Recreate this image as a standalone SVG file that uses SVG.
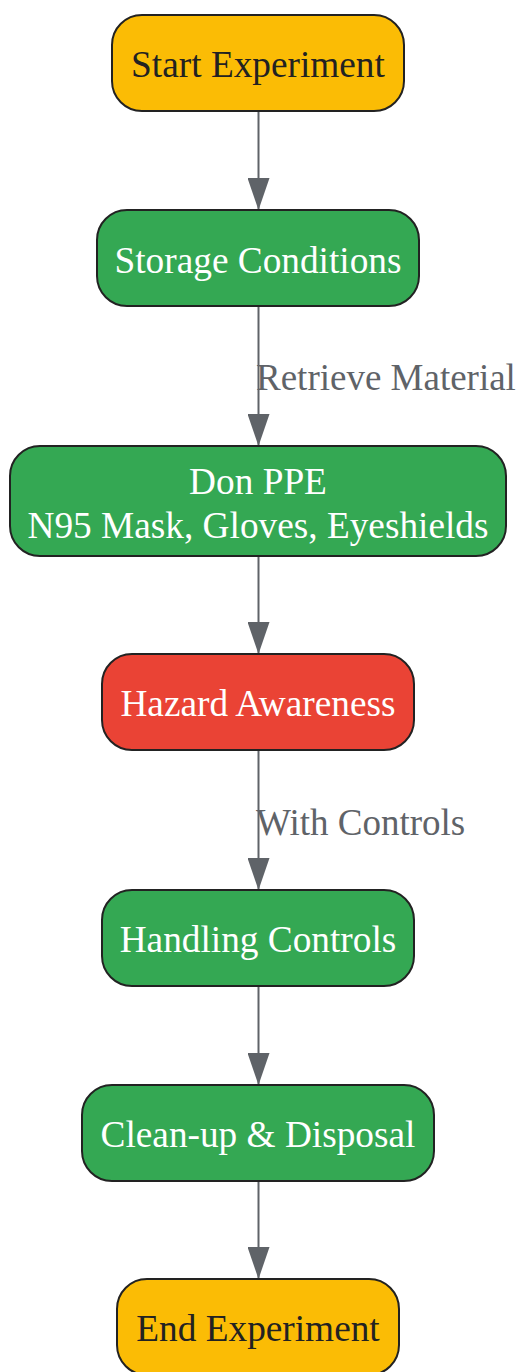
<svg xmlns="http://www.w3.org/2000/svg" width="519" height="1372" viewBox="0 0 519 1372">
<defs>
<style>
.node rect{stroke:#222;stroke-width:2}
.y rect{fill:#FBBC05}
.g rect{fill:#34A853}
.r rect{fill:#EA4335}
.node text{font-family:"Liberation Serif",serif;font-size:37.3px;text-anchor:middle}
.y text{fill:#222}
.g text,.r text{fill:#fff}
.edges line{stroke:#5f6368;stroke-width:2;fill:none}
.lbl{font-family:"Liberation Serif",serif;font-size:37px;fill:#5f6368}
</style>
<marker id="arr" markerUnits="userSpaceOnUse" viewBox="0 0 32 22" refX="32" refY="11" markerWidth="32" markerHeight="22" orient="auto">
<path d="M0,0 L32,11 L0,22 z" fill="#5f6368"/>
</marker>
</defs>
<rect width="519" height="1372" fill="#fff"/>
<g class="edges">
<line x1="258.5" y1="111" x2="258.5" y2="210" marker-end="url(#arr)"/>
<line x1="258.5" y1="306" x2="258.5" y2="446" marker-end="url(#arr)"/>
<line x1="258.5" y1="556" x2="258.5" y2="654" marker-end="url(#arr)"/>
<line x1="258.5" y1="750" x2="258.5" y2="890" marker-end="url(#arr)"/>
<line x1="258.5" y1="986" x2="258.5" y2="1085" marker-end="url(#arr)"/>
<line x1="258.5" y1="1181" x2="258.5" y2="1279" marker-end="url(#arr)"/>
<text class="lbl" x="256" y="390">Retrieve Material</text>
<text class="lbl" x="256" y="835">With Controls</text>
</g>
<g id="start" class="node y"><rect x="112" y="15" width="292" height="96" rx="30"/><text x="258" y="77">Start Experiment</text></g>
<g id="storage" class="node g"><rect x="97" y="210" width="322" height="96" rx="30"/><text x="258" y="273">Storage Conditions</text></g>
<g id="ppe" class="node g"><rect x="10" y="446" width="496" height="110" rx="30"/><text x="258" y="494">Don PPE</text><text x="258" y="538">N95 Mask, Gloves, Eyeshields</text></g>
<g id="hazard" class="node r"><rect x="102" y="654" width="312" height="96" rx="30"/><text x="258" y="716">Hazard Awareness</text></g>
<g id="handling" class="node g"><rect x="102" y="890" width="312" height="96" rx="30"/><text x="258" y="952">Handling Controls</text></g>
<g id="cleanup" class="node g"><rect x="82" y="1085" width="352" height="96" rx="30"/><text x="258" y="1147">Clean-up &amp; Disposal</text></g>
<g id="end" class="node y"><rect x="117" y="1279" width="282" height="96" rx="30"/><text x="258" y="1341">End Experiment</text></g>
</svg>
